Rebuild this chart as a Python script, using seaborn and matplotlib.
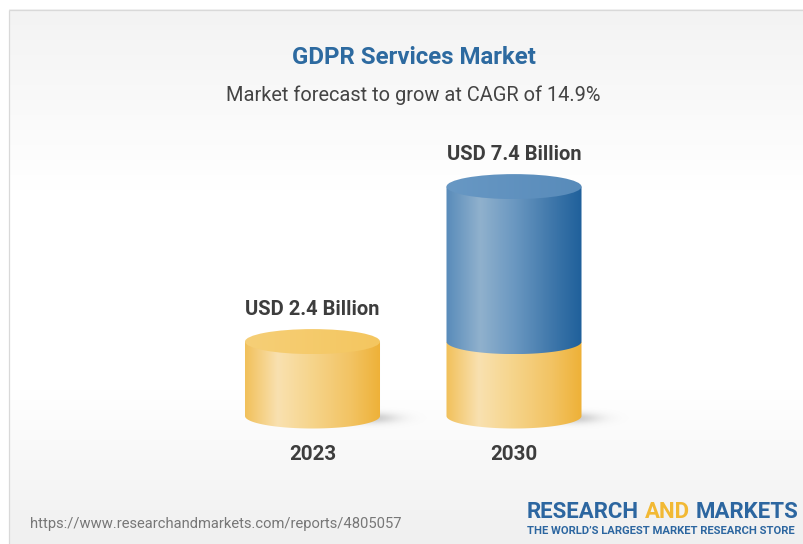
import numpy as np
import pandas as pd
import matplotlib
matplotlib.use("Agg")
import matplotlib.pyplot as plt
import seaborn as sns
from matplotlib.patches import PathPatch, Ellipse
from matplotlib.path import Path
from matplotlib.colors import LinearSegmentedColormap, to_rgb

# ---- data -------------------------------------------------------------
years = ["2023", "2030"]
market_size = [2.4, 7.4]          # USD billion
base_level = [2.4, 2.4]           # 2023 level, shown as the lower band
value_labels = ["USD 2.4 Billion", "USD 7.4 Billion"]
title = "GDPR Services Market"
subtitle = "Market forecast to grow at CAGR of 14.9%"
source_url = "https://www.researchandmarkets.com/reports/4805057"

# ---- canvas -----------------------------------------------------------
W, H, DPI = 804, 544, 100
sns.set_theme(style="white")
plt.rcParams["font.family"] = ["Roboto", "DejaVu Sans"]

fig = plt.figure(figsize=(W / DPI, H / DPI), dpi=DPI)
fig.patch.set_facecolor("white")


def fx(px):
    return px / W


def fy(py):
    return 1 - py / H


# soft grey-white-grey backdrop inside a thin frame
bg = fig.add_axes([0, 0, 1, 1], zorder=0)
bg.set_xlim(0, W)
bg.set_ylim(H, 0)
bg.axis("off")
rows = np.linspace(9, H, 400)
shade = np.interp(rows, [9, 190, 390, 544], [0.953, 1.0, 1.0, 0.94])
img = np.dstack([np.repeat(shade[:, None], 2, axis=1)] * 3)
bg.imshow(img, extent=[9, W, H, 9], aspect="auto", interpolation="bilinear")
bg.plot([9.5, 9.5], [H, 9.5], color="#d9d9d9", lw=0.9, solid_capstyle="butt")
bg.plot([9.5, W], [9.5, 9.5], color="#d9d9d9", lw=0.9, solid_capstyle="butt")
bg.set_xlim(0, W)
bg.set_ylim(H, 0)

# ---- chart axes -------------------------------------------------------
AX_L, AX_R, AX_T, AX_B = 160, 666, 140, 470
PX_PER_CAT = 201.5
FIRST_CAT_PX = 312.5
PX_PER_BN = 31.0
BASE_PX = 416.0
RY_PX = 12.5

ax = fig.add_axes([fx(AX_L), fy(AX_B), (AX_R - AX_L) / W, (AX_B - AX_T) / H], zorder=1)
ax.patch.set_alpha(0)

df = pd.DataFrame({"year": years, "total": market_size, "base": base_level})
sns.barplot(data=df, x="year", y="total", color="#3f78ad", width=0.67, ax=ax)
n = len(ax.patches)
sns.barplot(data=df, x="year", y="base", color="#f2c464", width=0.67, ax=ax)
total_bars = ax.patches[:n]
base_bars = ax.patches[n:]

x_left = -(FIRST_CAT_PX - AX_L) / PX_PER_CAT
ax_xlim = (x_left, x_left + (AX_R - AX_L) / PX_PER_CAT)
ax_ylim = (-(AX_B - BASE_PX) / PX_PER_BN, (BASE_PX - AX_T) / PX_PER_BN)
RY = RY_PX / PX_PER_BN

yellow_side = LinearSegmentedColormap.from_list(
    "yellow_side",
    [(0.0, "#f1c05a"), (0.24, "#f9e1b0"), (0.48, "#f6d58d"),
     (0.78, "#f2c363"), (1.0, "#eeb137")])
blue_side = LinearSegmentedColormap.from_list(
    "blue_side",
    [(0.0, "#588bba"), (0.25, "#90b1cd"), (0.5, "#6b98c1"),
     (0.8, "#3c75a9"), (1.0, "#1f609b")])
yellow_top = LinearSegmentedColormap.from_list("yellow_top", ["#f6cf77", "#f4c65f"])
blue_top = LinearSegmentedColormap.from_list("blue_top", ["#6898c4", "#588bba"])

grad = np.linspace(0, 1, 256)[None, :]


def body_path(x0, w, y0, y1):
    cx = x0 + w / 2
    th = np.linspace(np.pi, 2 * np.pi, 80)
    ex = cx + (w / 2) * np.cos(th)
    ey = y0 + RY * np.sin(th)
    xs = np.concatenate([[x0], ex, [x0 + w, x0]])
    ys = np.concatenate([[y1], ey, [y1, y1]])
    return Path(np.column_stack([xs, ys]), closed=True)


def draw_side(x0, w, y0, y1, cmap, z):
    clip = PathPatch(body_path(x0, w, y0, y1), facecolor="none", edgecolor="none",
                     transform=ax.transData)
    ax.add_patch(clip)
    im = ax.imshow(grad, cmap=cmap, extent=[x0, x0 + w, y0 - RY, y1],
                   aspect="auto", interpolation="bilinear", zorder=z)
    im.set_clip_path(clip)


def draw_top(x0, w, y1, cmap, z):
    clip = Ellipse((x0 + w / 2, y1), w, 2 * RY, facecolor="none", edgecolor="none",
                   transform=ax.transData)
    ax.add_patch(clip)
    im = ax.imshow(grad, cmap=cmap, extent=[x0, x0 + w, y1 - RY, y1 + RY],
                   aspect="auto", interpolation="bilinear", zorder=z)
    im.set_clip_path(clip)


def draw_shadow(x0, w, z):
    sx = np.linspace(-1, 1, 200)
    sy = np.linspace(-1, 1, 60)
    gx, gy = np.meshgrid(sx, sy)
    alpha = 0.42 * np.exp(-(gx ** 2) / 0.18 - (gy ** 2) / 0.12)
    rgba = np.zeros(gx.shape + (4,))
    rgba[..., :3] = to_rgb("#8a8a8a")
    rgba[..., 3] = alpha
    half_w = 60 / PX_PER_CAT
    half_h = 16 / PX_PER_BN
    cx = x0 + w - 8 / PX_PER_CAT
    cy = -2 / PX_PER_BN
    ax.imshow(rgba, extent=[cx - half_w, cx + half_w, cy - half_h, cy + half_h],
              aspect="auto", interpolation="bilinear", zorder=z)


for tb, bb, label in zip(total_bars, base_bars, value_labels):
    x0, w = bb.get_x(), bb.get_width()
    base_top = bb.get_height()
    total_top = tb.get_height()
    tb.set_visible(False)
    bb.set_visible(False)
    cx = x0 + w / 2

    draw_shadow(x0, w, 1)
    draw_side(x0, w, 0, base_top, yellow_side, 2)
    if total_top > base_top:
        draw_side(x0, w, base_top, total_top, blue_side, 3)
        draw_top(x0, w, total_top, blue_top, 4)
    else:
        draw_top(x0, w, total_top, yellow_top, 4)

    ax.annotate(label, xy=(cx, total_top), xytext=(0, 32 * 0.72),
                textcoords="offset points", ha="center", va="center",
                fontsize=14.5, fontweight="bold", color="#3d3d3d")

for tick, year in zip(ax.get_xticks(), years):
    ax.annotate(year, xy=(tick, 0), xytext=(0, -38 * 0.72),
                textcoords="offset points", ha="center", va="center",
                fontsize=14.8, fontweight="bold", color="#3d3d3d")

ax.set_xlim(*ax_xlim)
ax.set_ylim(*ax_ylim)
ax.axis("off")

# ---- titles -----------------------------------------------------------
fig.text(fx(414), fy(57), title, ha="center", va="center",
         fontsize=17.3, fontweight="bold", color="#2d6aa0")
fig.text(fx(413), fy(95), subtitle, ha="center", va="center",
         fontsize=14.4, color="#444444")

# ---- footer -----------------------------------------------------------
fig.text(fx(30), fy(524), source_url, ha="left", va="center",
         fontsize=10.6, color="#777777")

renderer = fig.canvas.get_renderer()
logo_blue = "#2c66a0"
logo_gold = "#f2b934"
x_cursor = 527
for piece, col in [("RESEARCH", logo_blue), ("AND", logo_gold), ("MARKETS", logo_blue)]:
    t = fig.text(fx(x_cursor), fy(512), piece, ha="left", va="center",
                 fontsize=16, fontweight="bold", color=col)
    ext = t.get_window_extent(renderer)
    x_cursor = ext.x1 + 6
fig.text(fx(527), fy(531), "THE WORLD\u2019S LARGEST MARKET RESEARCH STORE",
         ha="left", va="center", fontsize=8.15, fontweight="bold", color=logo_blue)

fig.savefig("out.png", dpi=DPI)
